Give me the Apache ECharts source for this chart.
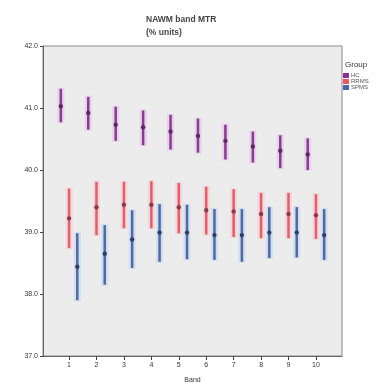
<!DOCTYPE html>
<html><head><meta charset="utf-8">
<script src="https://cdn.jsdelivr.net/npm/echarts@6/dist/echarts.min.js"></script>
<style>html,body{margin:0;padding:0;background:#fff}#c{width:387px;height:390px}</style>
</head><body><div id="c"></div>
<script>
var bands = [1,2,3,4,5,6,7,8,9,10];
var yTicks = [37,38,39,40,41,42];
var hcMean = [41.03,40.92,40.73,40.69,40.62,40.55,40.47,40.38,40.31,40.25];
var hcLow  = [40.77,40.65,40.47,40.40,40.33,40.28,40.17,40.12,40.03,40.00];
var hcHigh = [41.31,41.18,41.02,40.96,40.89,40.83,40.73,40.62,40.56,40.51];
var rrMean = [39.22,39.40,39.44,39.44,39.40,39.35,39.33,39.29,39.29,39.27];
var rrLow  = [38.74,38.95,39.06,39.06,38.98,38.96,38.92,38.90,38.90,38.89];
var rrHigh = [39.70,39.81,39.81,39.82,39.79,39.73,39.69,39.63,39.63,39.61];
var spMean = [38.44,38.65,38.88,38.99,38.99,38.95,38.95,38.99,38.99,38.95];
var spLow  = [37.90,38.15,38.42,38.52,38.56,38.55,38.52,38.58,38.59,38.55];
var spHigh = [38.98,39.11,39.35,39.45,39.44,39.37,39.37,39.40,39.40,39.37];
var groups = [
  {name:'HC', off:-0.3, mean:hcMean, lo:hcLow, hi:hcHigh, color:'#8a3a8f', halo:'rgba(220,150,235,0.3)', dot:'#5a2a60'},
  {name:'RRMS', off:0, mean:rrMean, lo:rrLow, hi:rrHigh, color:'#ea5a68', halo:'rgba(250,170,180,0.3)', dot:'#8a3a50'},
  {name:'SPMS', off:0.3, mean:spMean, lo:spLow, hi:spHigh, color:'#4a6aa8', halo:'rgba(165,195,240,0.35)', dot:'#2e3e68'}
];
var series = [];
groups.forEach(function(g){
  var data = bands.map(function(b,i){return [b+g.off, g.lo[i], g.hi[i], g.mean[i]];});
  series.push({
    type:'custom', name:g.name, data:data, encode:{x:0,y:[1,2,3]},
    renderItem:function(params, api){
      var x = api.value(0);
      var lo = api.coord([x, api.value(1)]);
      var hi = api.coord([x, api.value(2)]);
      var m = api.coord([x, api.value(3)]);
      return {type:'group', children:[
        {type:'line', shape:{x1:lo[0],y1:lo[1]+1,x2:hi[0],y2:hi[1]-1}, style:{stroke:g.halo, lineWidth:7}},
        {type:'line', shape:{x1:lo[0],y1:lo[1],x2:hi[0],y2:hi[1]}, style:{stroke:g.color, lineWidth:2.5}},
        {type:'circle', shape:{cx:m[0],cy:m[1],r:2.2}, style:{fill:g.dot}}
      ]};
    }
  });
});
var chart = echarts.init(document.getElementById('c'));
chart.setOption({
  animation:false,
  backgroundColor:'#fff',
  title:{text:'NAWM band MTR\n(% units)', left:141, top:8,
    textStyle:{fontSize:8.5, fontWeight:'bold', color:'#444', lineHeight:13, fontFamily:'Liberation Sans'}},
  legend:{show:false},
  graphic:[
    {type:'text', left:345, top:61, style:{text:'Group', fontSize:8, fill:'#333', fontFamily:'Liberation Sans'}},
    {type:'rect', left:343, top:73, shape:{width:6,height:5}, style:{fill:'#8e2f93'}},
    {type:'rect', left:343, top:79, shape:{width:6,height:5}, style:{fill:'#ee5461'}},
    {type:'rect', left:343, top:85, shape:{width:6,height:5}, style:{fill:'#4468ad'}},
    {type:'text', left:351, top:72, style:{text:'HC', fontSize:6, fill:'#555', fontFamily:'Liberation Sans'}},
    {type:'text', left:351, top:78, style:{text:'RRMS', fontSize:6, fill:'#555', fontFamily:'Liberation Sans'}},
    {type:'text', left:351, top:84, style:{text:'SPMS', fontSize:6, fill:'#555', fontFamily:'Liberation Sans'}}
  ],
  grid:{left:43, right:45, top:46, bottom:34, show:true, backgroundColor:'#ececec', borderColor:'#8a8a8a', borderWidth:1},
  xAxis:{type:'value', min:0.05, max:10.95, name:'Band', nameLocation:'middle', nameGap:21,
    nameTextStyle:{fontSize:7, color:'#333', fontFamily:'Liberation Sans'},
    axisLine:{show:true, lineStyle:{color:'#666'}}, splitLine:{show:false},
    axisTick:{show:true, customValues:bands, length:4, lineStyle:{color:'#444'}},
    axisLabel:{customValues:bands, fontSize:7, color:'#333', margin:6, fontFamily:'Liberation Sans'}},
  yAxis:{type:'value', min:37, max:42, interval:1,
    axisLine:{show:true, lineStyle:{color:'#666'}}, splitLine:{show:false},
    axisTick:{show:true, length:3, lineStyle:{color:'#444'}},
    axisLabel:{fontSize:7, color:'#333', margin:5, fontFamily:'Liberation Sans', formatter:function(v){return v.toFixed(1);}}},
  series:series
});
</script></body></html>
